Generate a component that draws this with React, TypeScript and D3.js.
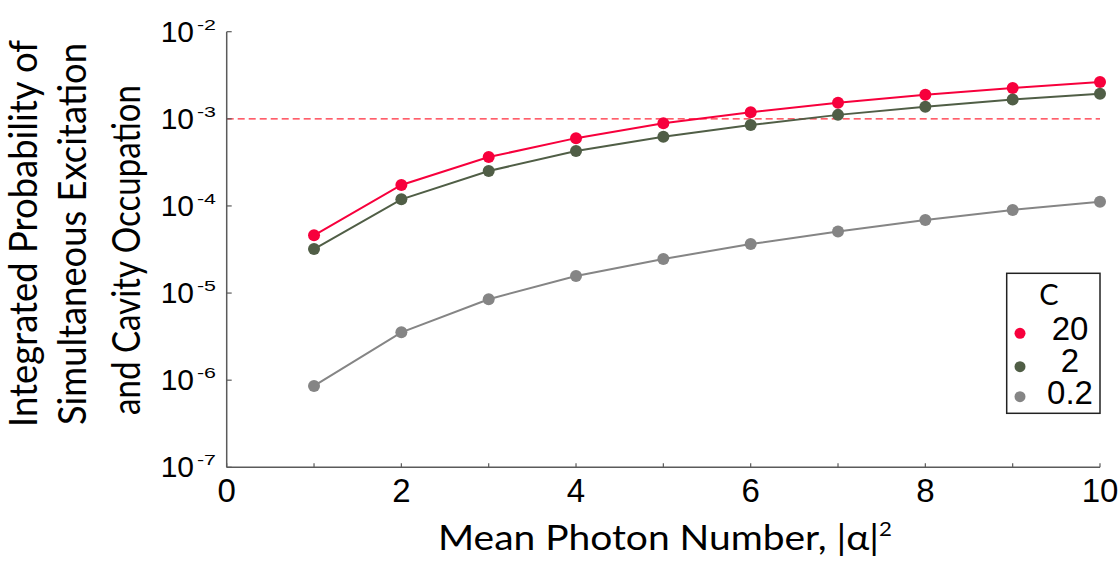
import React, { useRef, useEffect } from 'react';
import * as d3 from 'd3';

// mean photon number |alpha|^2
const photonNumbers = [1, 2, 3, 4, 5, 6, 7, 8, 9, 10];

// integrated probability for each cooperativity C
const probC20 = [4.6e-5, 1.74e-4, 3.64e-4, 6.0e-4, 8.9e-4, 1.19e-3, 1.53e-3, 1.89e-3, 2.26e-3, 2.65e-3];
const probC2 = [3.2e-5, 1.19e-4, 2.52e-4, 4.27e-4, 6.23e-4, 8.5e-4, 1.11e-3, 1.38e-3, 1.67e-3, 1.94e-3];
const probC02 = [8.6e-7, 3.54e-6, 8.5e-6, 1.57e-5, 2.46e-5, 3.65e-5, 5.1e-5, 6.9e-5, 9.0e-5, 1.12e-4];

const seriesLabels = ['20', '2', '0.2'];
const seriesColors = ['#f7003c', '#505e46', '#858585'];

const xTicks = [0, 2, 4, 6, 8, 10];
const yTickExponents = [-2, -3, -4, -5, -6, -7];
const threshold = 1e-3;

const yTitleLines = ['Integrated Probability of', 'Simultaneous Excitation', 'and Cavity Occupation'];

export default function App() {
  const svgRef = useRef<SVGSVGElement>(null);

  useEffect(() => {
    const svg = d3.select(svgRef.current);
    svg.selectAll('*').remove();

    const left = 226.7, right = 1100, top = 31.7, bottom = 467.3;
    const axisColor = '#5a5a5a';
    const tickFont = '"Liberation Sans", Arial, sans-serif';
    const labelFont = 'Lato, "Open Sans", sans-serif';

    const x = d3.scaleLinear().domain([0, 10]).range([left, right]);
    const y = d3.scaleLog().domain([1e-7, 1e-2]).range([bottom, top]);

    // threshold line
    svg.append('line')
      .attr('x1', x(0)).attr('x2', x(10))
      .attr('y1', y(threshold)).attr('y2', y(threshold))
      .attr('stroke', '#ff2a3a')
      .attr('stroke-width', 1.2)
      .attr('stroke-dasharray', '7 4');

    // axes
    svg.append('line')
      .attr('x1', left).attr('x2', left).attr('y1', top).attr('y2', bottom)
      .attr('stroke', axisColor).attr('stroke-width', 1.5);
    svg.append('line')
      .attr('x1', left).attr('x2', right).attr('y1', bottom).attr('y2', bottom)
      .attr('stroke', axisColor).attr('stroke-width', 1.5);

    // x ticks
    svg.append('g').selectAll('line')
      .data(d3.range(0, 11))
      .enter().append('line')
      .attr('x1', d => x(d)).attr('x2', d => x(d))
      .attr('y1', bottom).attr('y2', bottom - 4)
      .attr('stroke', axisColor).attr('stroke-width', 1.2);

    svg.append('g').selectAll('text')
      .data(xTicks)
      .enter().append('text')
      .attr('x', d => x(d))
      .attr('y', 502)
      .attr('text-anchor', 'middle')
      .style('font-family', tickFont)
      .style('font-size', '33px')
      .style('fill', '#000')
      .text(d => d);

    // y ticks
    svg.append('g').selectAll('line')
      .data(yTickExponents)
      .enter().append('line')
      .attr('x1', left).attr('x2', left + 5)
      .attr('y1', d => y(Math.pow(10, d))).attr('y2', d => y(Math.pow(10, d)))
      .attr('stroke', axisColor).attr('stroke-width', 1.2);

    const yLabels = svg.append('g').selectAll('g')
      .data(yTickExponents)
      .enter().append('g')
      .attr('transform', d => `translate(0,${y(Math.pow(10, d))})`);

    yLabels.append('text')
      .attr('x', 194)
      .attr('y', 10)
      .attr('text-anchor', 'end')
      .style('font-family', tickFont)
      .style('font-size', '30px')
      .style('fill', '#000')
      .text('10');

    yLabels.append('text')
      .attr('x', 197)
      .attr('y', -2)
      .attr('textLength', 19)
      .attr('lengthAdjust', 'spacingAndGlyphs')
      .style('font-family', tickFont)
      .style('font-size', '15px')
      .style('fill', '#000')
      .text(d => `${d}`);

    // series
    const allSeries = [probC20, probC2, probC02];
    const line = d3.line<number>()
      .x((d, i) => x(photonNumbers[i]))
      .y(d => y(d));

    allSeries.forEach((values, k) => {
      svg.append('path')
        .datum(values)
        .attr('d', line)
        .attr('fill', 'none')
        .attr('stroke', seriesColors[k])
        .attr('stroke-width', 2);
      svg.append('g').selectAll('circle')
        .data(values)
        .enter().append('circle')
        .attr('cx', (d, i) => x(photonNumbers[i]))
        .attr('cy', d => y(d))
        .attr('r', 6)
        .attr('fill', seriesColors[k]);
    });

    // legend
    svg.append('rect')
      .attr('x', 1006.7).attr('y', 273.3)
      .attr('width', 93.3).attr('height', 140)
      .attr('fill', '#fff')
      .attr('stroke', '#222')
      .attr('stroke-width', 1.5);

    svg.append('text')
      .attr('x', 1049).attr('y', 305)
      .attr('text-anchor', 'middle')
      .style('font-family', labelFont)
      .style('font-size', '29px')
      .style('fill', '#000')
      .text('C');

    const legendY = [333.3, 366.7, 396.7];
    const legendBase = [340, 371.7, 404];
    seriesLabels.forEach((lab, k) => {
      svg.append('circle')
        .attr('cx', 1020).attr('cy', legendY[k])
        .attr('r', 5.5)
        .attr('fill', seriesColors[k]);
      svg.append('text')
        .attr('x', 1070).attr('y', legendBase[k])
        .attr('text-anchor', 'middle')
        .style('font-family', tickFont)
        .style('font-size', '33px')
        .style('fill', '#000')
        .text(lab);
    });

    // x axis title
    const xTitle = svg.append('text')
      .attr('x', 438).attr('y', 550)
      .attr('textLength', 454)
      .attr('lengthAdjust', 'spacingAndGlyphs')
      .style('font-family', labelFont)
      .style('font-size', '35px')
      .style('fill', '#000');
    xTitle.append('tspan').text('Mean Photon Number, |α|');
    xTitle.append('tspan')
      .attr('dy', -14)
      .style('font-size', '20px')
      .text('2');

    // y axis title (three rotated lines)
    const yTitleX = [37, 86, 140];
    const yTitleCenter = [233.5, 234, 250];
    const yTitleLen = [387, 382, 330];
    yTitleLines.forEach((t, k) => {
      svg.append('text')
        .attr('transform', `translate(${yTitleX[k]},${yTitleCenter[k]}) rotate(-90)`)
        .attr('text-anchor', 'middle')
        .attr('textLength', yTitleLen[k])
        .attr('lengthAdjust', 'spacingAndGlyphs')
        .style('font-family', labelFont)
        .style('font-size', '39px')
        .style('fill', '#000')
        .text(t);
    });
  }, []);

  return (
    <svg
      ref={svgRef}
      width={1120}
      height={563}
      style={{ position: 'absolute', left: 0, top: 0, background: '#fff' }}
    />
  );
}
